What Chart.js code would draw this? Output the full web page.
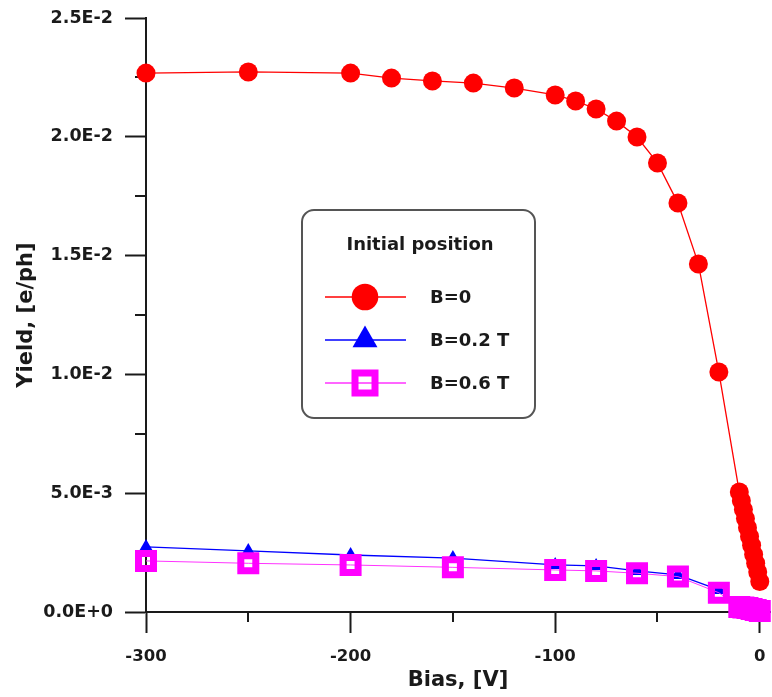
<!DOCTYPE html>
<html>
<head>
<meta charset="utf-8">
<script src="https://cdn.jsdelivr.net/npm/chart.js@4.4.0/dist/chart.umd.min.js"></script>
<style>
  html, body { margin: 0; padding: 0; background: #ffffff; }
  #c { display: block; }
</style>
</head>
<body>
<canvas id="c" width="772" height="697"></canvas>
<script>
// ---- Data ----
const xTickValues = [-300, -250, -200, -150, -100, -50, 0];
const xTickLabels = ['-300', '', '-200', '', '-100', '', '0'];
const yTickValues = [0, 0.0025, 0.005, 0.0075, 0.01, 0.0125, 0.015, 0.0175, 0.02, 0.0225, 0.025];
const yTickLabels = ['0.0E+0', '', '5.0E-3', '', '1.0E-2', '', '1.5E-2', '', '2.0E-2', '', '2.5E-2'];

const biasB0  = [-300, -250, -200, -180, -160, -140, -120, -100, -90, -80, -70, -60, -50, -40, -30, -20,
                 -10, -9, -8, -7, -6, -5, -4, -3, -2, -1, 0];
const yieldB0 = [0.02268, 0.02273, 0.02268, 0.02247, 0.02235, 0.02226, 0.02205, 0.02176, 0.02151, 0.02117,
                 0.02066, 0.01999, 0.01890, 0.01721, 0.01465, 0.01010,
                 0.00505, 0.00468, 0.00431, 0.00393, 0.00355, 0.00318, 0.00281, 0.00242, 0.00205, 0.00168, 0.00128];

const biasB02  = [-300, -250, -200, -150, -100, -80, -60, -40, -20, -10, -8, -6, -4, -2, 0];
const yieldB02 = [0.00274, 0.00257, 0.00240, 0.00227, 0.00198, 0.00194, 0.00173, 0.00156, 0.00093,
                  0.00026, 0.00023, 0.00020, 0.00016, 0.00011, 0.00006];

const biasB06  = [-300, -250, -200, -150, -100, -80, -60, -40, -20, -10, -8, -6, -4, -2, 0];
const yieldB06 = [0.00215, 0.00205, 0.00198, 0.00188, 0.00177, 0.00173, 0.00163, 0.00149, 0.00081,
                  0.00021, 0.00019, 0.00017, 0.00013, 0.00008, 0.00004];

const seriesLabels = ['B=0', 'B=0.2 T', 'B=0.6 T'];
const legendTitle = 'Initial position';
const xTitle = 'Bias, [V]';
const yTitle = 'Yield, [e/ph]';

// ---- Chart ----
const AXIS = '#1a1a1a';
const FONT = '"DejaVu Sans", sans-serif';

function pts(xs, ys) { return xs.map((x, i) => ({ x: x, y: ys[i] })); }

const minorTicks = {
  id: 'minorTicks',
  beforeDatasetsDraw(chart) {
    const ctx = chart.ctx;
    const xs = chart.scales.x, ys = chart.scales.y;
    ctx.save();
    ctx.strokeStyle = AXIS;
    ctx.lineWidth = 2;
    xs.ticks.forEach((t, i) => {
      if (xTickLabels[i] === '') {
        const px = Math.round(xs.getPixelForValue(t.value));
        ctx.beginPath(); ctx.moveTo(px, xs.top); ctx.lineTo(px, xs.top + 10); ctx.stroke();
      }
    });
    ys.ticks.forEach((t, i) => {
      if (yTickLabels[i] === '') {
        const py = Math.round(ys.getPixelForValue(t.value));
        ctx.beginPath(); ctx.moveTo(ys.right, py); ctx.lineTo(ys.right - 11, py); ctx.stroke();
      }
    });
    ctx.restore();
  }
};

const boxLegend = {
  id: 'boxLegend',
  afterDraw(chart) {
    const ctx = chart.ctx;
    const bx = 302, by = 210, bw = 233, bh = 208, r = 12;
    ctx.save();
    ctx.beginPath();
    ctx.roundRect(bx, by, bw, bh, r);
    ctx.fillStyle = '#ffffff';
    ctx.fill();
    ctx.lineWidth = 2;
    ctx.strokeStyle = '#555555';
    ctx.stroke();

    ctx.fillStyle = '#1a1a1a';
    ctx.font = 'bold 18px ' + FONT;
    ctx.textAlign = 'center';
    ctx.textBaseline = 'middle';
    ctx.fillText(legendTitle, 420, 245);

    const rows = [297, 340, 383];
    chart.data.datasets.forEach((ds, i) => {
      const y = rows[i];
      const cx = 365;
      ctx.strokeStyle = ds.borderColor; ctx.lineWidth = 1.5;
      ctx.beginPath(); ctx.moveTo(325, y); ctx.lineTo(406, y); ctx.stroke();
      if (ds.pointStyle === 'circle') {
        ctx.fillStyle = ds.pointBackgroundColor;
        ctx.beginPath(); ctx.arc(cx, y, 13.3, 0, Math.PI * 2); ctx.fill();
      } else if (ds.pointStyle === 'triangle') {
        const rr = 14.4;
        ctx.fillStyle = ds.pointBackgroundColor;
        ctx.beginPath();
        ctx.moveTo(cx, y - rr);
        ctx.lineTo(cx + rr * Math.sin(2 * Math.PI / 3), y + rr * 0.5);
        ctx.lineTo(cx - rr * Math.sin(2 * Math.PI / 3), y + rr * 0.5);
        ctx.closePath(); ctx.fill();
      } else {
        ctx.strokeStyle = ds.pointBorderColor;
        ctx.lineWidth = 7;
        ctx.strokeRect(cx - 10, y - 10, 20, 20);
      }
      ctx.fillStyle = '#1a1a1a';
      ctx.font = 'bold 18px ' + FONT;
      ctx.textAlign = 'left';
      ctx.fillText(ds.label, 430, y + 1);
    });
    ctx.restore();
  }
};

new Chart(document.getElementById('c'), {
  type: 'scatter',
  data: {
    datasets: [
      {
        label: seriesLabels[0], data: pts(biasB0, yieldB0), showLine: true,
        borderColor: '#ff0000', borderWidth: 1.3,
        pointStyle: 'circle', pointRadius: 9.5, pointBackgroundColor: '#ff0000',
        pointBorderColor: '#ff0000', pointBorderWidth: 0, clip: false, order: 0
      },
      {
        label: seriesLabels[1], data: pts(biasB02, yieldB02), showLine: true,
        borderColor: '#0000ff', borderWidth: 1.3,
        pointStyle: 'triangle', pointRadius: 8, pointBackgroundColor: '#0000ff',
        pointBorderColor: '#0000ff', pointBorderWidth: 0, clip: false, order: 2
      },
      {
        label: seriesLabels[2], data: pts(biasB06, yieldB06), showLine: true,
        borderColor: '#ff33ff', borderWidth: 1,
        pointStyle: 'rect', pointRadius: 10.6, pointBackgroundColor: 'rgba(0,0,0,0)',
        pointBorderColor: '#ff00ff', pointBorderWidth: 7, clip: false, order: 1
      }
    ]
  },
  options: {
    responsive: false,
    animation: false,
    events: [],
    layout: { autoPadding: false, padding: { top: 18, right: 2, left: 0, bottom: 0 } },
    plugins: { legend: { display: false }, tooltip: { enabled: false } },
    scales: {
      x: {
        type: 'linear', min: -300, max: 5,
        afterBuildTicks(axis) { axis.ticks = xTickValues.map(v => ({ value: v })); },
        afterFit(axis) { axis.height = 85; axis.paddingLeft = 0; axis.paddingRight = 0; },
        ticks: {
          autoSkip: false, maxRotation: 0, padding: 14, color: AXIS,
          font: { family: FONT, size: 16.5, weight: 'bold' },
          callback: (v, i) => xTickLabels[i]
        },
        grid: {
          drawOnChartArea: false, drawTicks: true, tickLength: 21, tickWidth: 2,
          tickColor: (c) => (xTickLabels[c.index] === '' ? 'rgba(0,0,0,0)' : AXIS)
        },
        border: { display: true, color: AXIS, width: 2 },
        title: {
          display: true, text: xTitle, color: AXIS,
          font: { family: FONT, size: 21, weight: 'bold' },
          padding: { top: 0, bottom: 4 }
        }
      },
      y: {
        type: 'linear', min: 0, max: 0.025,
        afterBuildTicks(axis) { axis.ticks = yTickValues.map(v => ({ value: v })); },
        afterFit(axis) { axis.width = 146; axis.paddingTop = 0; axis.paddingBottom = 0; },
        ticks: {
          autoSkip: false, padding: 12, color: AXIS,
          font: { family: FONT, size: 17.5, weight: 'bold' },
          callback: (v, i) => yTickLabels[i]
        },
        grid: {
          drawOnChartArea: false, drawTicks: true, tickLength: 21, tickWidth: 2,
          tickColor: (c) => (yTickLabels[c.index] === '' ? 'rgba(0,0,0,0)' : AXIS)
        },
        border: { display: true, color: AXIS, width: 2 },
        title: {
          display: true, text: yTitle, color: AXIS,
          font: { family: FONT, size: 21, weight: 'bold' },
          padding: { top: 14, bottom: 0 }
        }
      }
    }
  },
  plugins: [minorTicks, boxLegend]
});
</script>
</body>
</html>
